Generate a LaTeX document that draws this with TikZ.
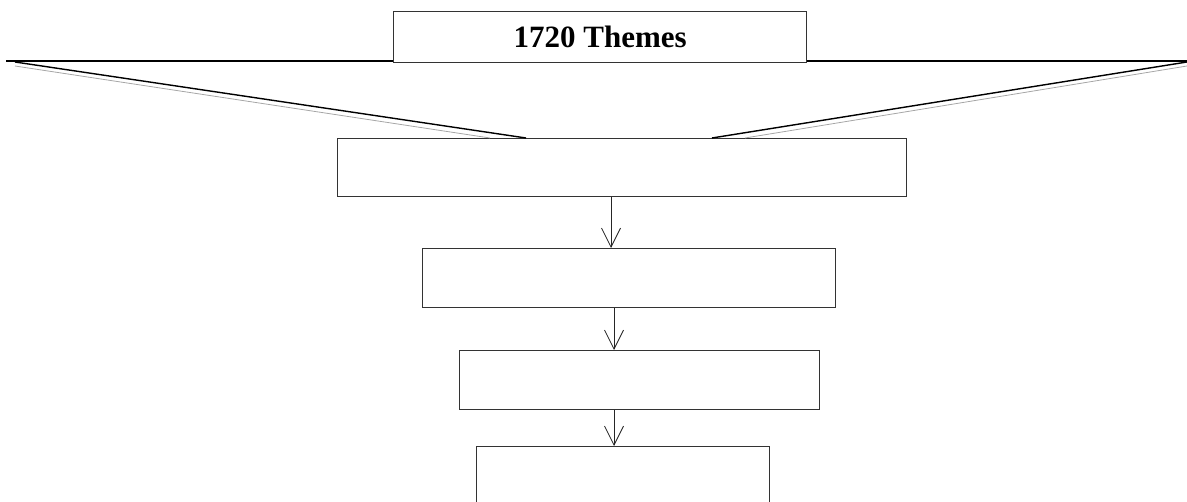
\documentclass[tikz,border=0pt]{standalone}
\usepackage{fontspec}
\setmainfont{Liberation Serif}
\usetikzlibrary{arrows.meta}
\begin{document}
\begin{tikzpicture}[x=1pt,y=-1pt,
  box/.style={draw=black!80,line width=1.4pt,inner sep=0pt,anchor=north west},
  conn/.style={draw=black!85,line width=1pt,-{Straight Barb[length=19pt,width=19pt,line width=0.8pt]}}]
\useasboundingbox (0,0) rectangle (1187,502);
% horizontal bar
\coordinate (hl) at (6,61);
\coordinate (hr) at (1187,61);
\draw[line width=2.4pt] (hl) -- (hr);
% boxes
\node[box,fill=white,minimum width=413pt,minimum height=51pt,font=\bfseries\fontsize{31}{36}\selectfont] (top) at (393,11) {1720 Themes};
\node[box,minimum width=569pt,minimum height=58pt] (b1) at (337,138) {};
\node[box,minimum width=413pt,minimum height=59pt] (b2) at (422,248) {};
\node[box,minimum width=360pt,minimum height=59pt] (b3) at (459,350) {};
\node[box,minimum width=293pt,minimum height=70pt] (b4) at (476,446) {};
% funnel lines
\coordinate (fl) at (15,62);
\coordinate (flg) at (15,66);
\coordinate (fr) at (1187,62);
\coordinate (frg) at (1187,66);
\coordinate (bl) at (526,138);
\coordinate (blg) at (490,138);
\coordinate (br) at (712,138);
\coordinate (brg) at (745,138);
\draw[line width=1.4pt] (fl) -- (bl);
\draw[black!35,line width=0.8pt] (flg) -- (blg);
\draw[line width=1.4pt] (fr) -- (br);
\draw[black!35,line width=0.8pt] (frg) -- (brg);
% arrows
\draw[conn] (b1.south -| 611,0) -- (b2.north -| 611,0);
\draw[conn] (b2.south -| 614,0) -- (b3.north -| 614,0);
\draw[conn] (b3.south -| 614,0) -- (b4.north -| 614,0);
\end{tikzpicture}
\end{document}
